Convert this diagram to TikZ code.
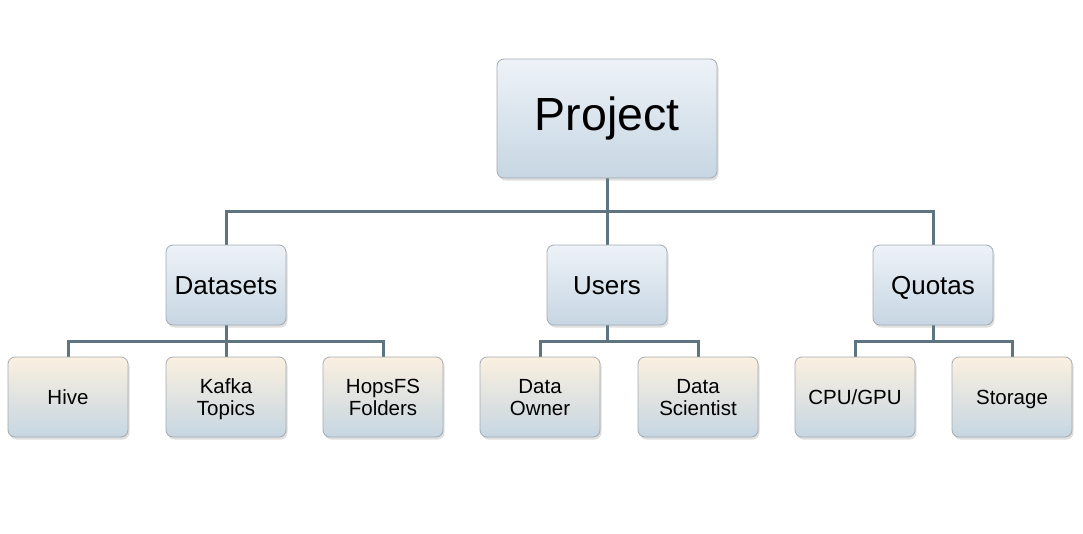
\documentclass[tikz,border=0pt]{standalone}
\usepackage{fontspec}
\setmainfont{Liberation Sans}
\usetikzlibrary{shadows,backgrounds}
\definecolor{topblue}{HTML}{EEF2F8}
\definecolor{botblue}{HTML}{C6D6E2}
\definecolor{topbeige}{HTML}{FBF0E0}
\definecolor{boxline}{HTML}{A3ABB3}
\definecolor{conncol}{HTML}{5E7480}
\newcommand\capl[1]{\rule{0pt}{0.716em}\smash{#1}}
\tikzset{
  box/.style={draw=boxline, line width=0.8pt, rounded corners=7pt,
    top color=topblue, bottom color=botblue, text=black, align=center,
    inner sep=0pt,
    drop shadow={opacity=0.25, shadow xshift=1.5pt, shadow yshift=-2.5pt}},
  rootbox/.style={box, minimum width=220pt, minimum height=119pt,
    font=\fontsize{46.5}{52}\selectfont},
  midbox/.style={box, minimum width=120pt, minimum height=80pt,
    font=\fontsize{26}{29}\selectfont},
  leafbox/.style={box, top color=topbeige, minimum width=120pt, minimum height=80pt,
    font=\fontsize{20.5}{22.5}\selectfont},
  conn/.style={draw=conncol, line width=3pt}
}
\begin{document}
\begin{tikzpicture}[x=1pt,y=-1pt]
\useasboundingbox (0,0) rectangle (1083,533);
\node[rootbox] (proj) at (607,118.5) {\rule[-5pt]{0pt}{0.716em}\smash{Project}};
\node[midbox] (ds) at (226,285) {\capl{Datasets}};
\node[midbox] (us) at (607,285) {\capl{Users}};
\node[midbox] (qu) at (933,285) {\capl{Quotas}};
\node[leafbox] (hive) at (68,397) {\capl{Hive}};
\node[leafbox] (kafka) at (226,397) {\capl{Kafka}\\\capl{Topics}};
\node[leafbox] (hops) at (383,397) {\capl{HopsFS}\\\capl{Folders}};
\node[leafbox] (own) at (540,397) {\capl{Data}\\\capl{Owner}};
\node[leafbox] (sci) at (698,397) {\capl{Data}\\\capl{Scientist}};
\node[leafbox] (cpu) at (855,397) {\capl{CPU/GPU}};
\node[leafbox] (sto) at (1012,397) {\capl{Storage}};
\begin{scope}[on background layer]
\coordinate (b0) at (607,211);
\coordinate (b1) at (226,341);
\coordinate (b2) at (607,341);
\coordinate (b3) at (933,341);
\draw[conn] (proj.south) -- (b0);
\draw[conn] (b0) -| (ds.north);
\draw[conn] (b0) -| (qu.north);
\draw[conn] (b0) -- (us.north);
\draw[conn] (ds.south) -- (b1);
\draw[conn] (b1) -| (hive.north);
\draw[conn] (b1) -| (hops.north);
\draw[conn] (b1) -- (kafka.north);
\draw[conn] (us.south) -- (b2);
\draw[conn] (b2) -| (own.north);
\draw[conn] (b2) -| (sci.north);
\draw[conn] (qu.south) -- (b3);
\draw[conn] (b3) -| (cpu.north);
\draw[conn] (b3) -| (sto.north);
\end{scope}
\end{tikzpicture}
\end{document}
